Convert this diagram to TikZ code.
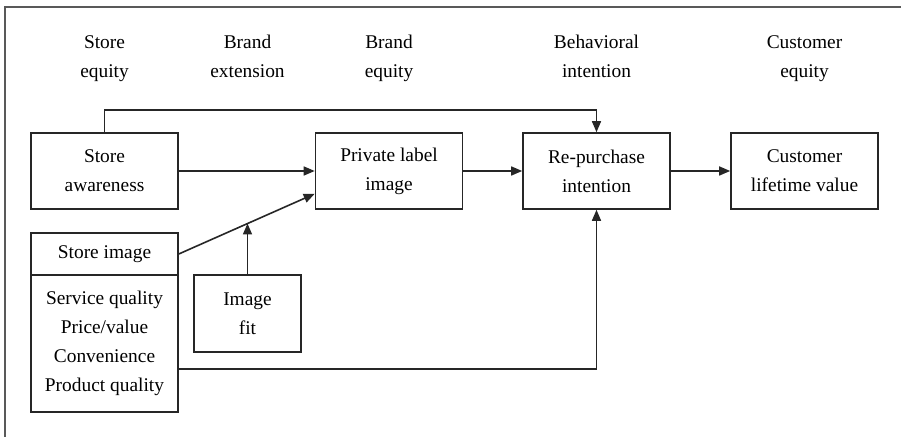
\documentclass[tikz,border=0pt]{standalone}
\usepackage{fontspec}
\setmainfont{Liberation Serif}
\usetikzlibrary{arrows.meta}
\tikzset{
  box/.style={draw=black!85, line width=0.8pt, minimum width=73.5pt, minimum height=38pt,
    inner sep=0pt, align=center, font=\fontsize{9.7}{14.5}\selectfont},
  head/.style={align=center, inner sep=0pt, font=\fontsize{9.7}{14.5}\selectfont},
  arr/.style={draw=black!85, line width=0.8pt, -{Triangle[length=5.5pt,width=4.5pt]}}
}
\begin{document}
\begin{tikzpicture}[x=0.5pt,y=-0.5pt]
		\useasboundingbox (0,0) rectangle (901,437);
		\draw[black!65,line width=1.1pt] (5,440)--(5,7)--(905,7);
		
		% column heads
		\node[head] (h1) at (104.5,57) {Store\strut\\equity\strut};
		\node[head] (h2) at (247.5,57) {Brand\strut\\extension\strut};
		\node[head] (h3) at (389,57) {Brand\strut\\equity\strut};
		\node[head] (h4) at (596.5,57) {Behavioral\strut\\intention\strut};
		\node[head] (h5) at (804.5,57) {Customer\strut\\equity\strut};
		
		% boxes
		\node[box] (aware) at (104.5,171) {Store\\awareness};
		\node[box] (label) at (389,171) {Private label\\image};
		\node[box] (repur) at (596.5,171) {Re-purchase\\intention};
		\node[box] (clv) at (804.5,171) {Customer\\lifetime value};
		\node[box,minimum height=21pt] (simg) at (104.5,254) {Store image};
		\node[box,minimum height=68.5pt] (sattr) at (104.5,343.5) {Service quality\\Price/value\\Convenience\\Product quality};
		\node[box,minimum width=53.5pt,minimum height=38.5pt] (fit) at (247.5,313.5) {Image\\fit};
		
		% links
		\draw[arr] (aware.north) -- ++(0,-22) -| (repur.north);
		\draw[arr] (aware.east) -- (label.west);
		\draw[arr] (label.east) -- (repur.west);
		\draw[arr] (repur.east) -- (clv.west);
		\coordinate (lin) at ([yshift=8pt]label.south west);
		\draw[arr] (simg.east) -- (lin) coordinate[pos=0.507] (mid);
		\draw[arr] (fit.north) -- (fit.north |- mid);
		\draw[arr] ([yshift=-12.75pt]sattr.east) -| (repur.south);
\end{tikzpicture}
\end{document}
